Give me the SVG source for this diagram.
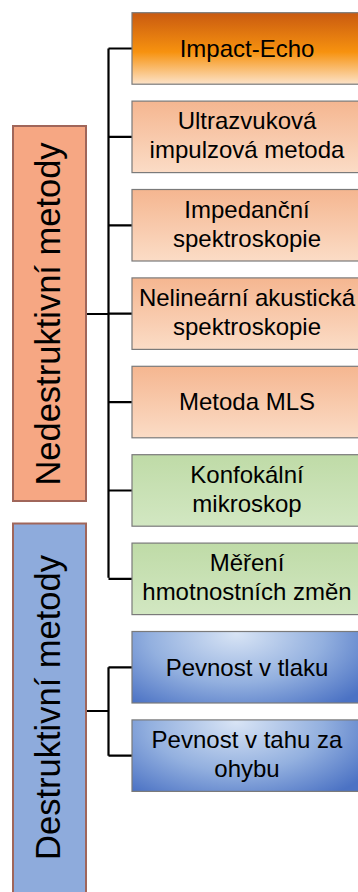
<svg xmlns="http://www.w3.org/2000/svg" width="358" height="892" viewBox="0 0 358 892">
<defs>
<linearGradient id="gOrange" x1="0" y1="0" x2="0" y2="1">
<stop offset="0" stop-color="#c95a10"/>
<stop offset="0.55" stop-color="#f7920f"/>
<stop offset="1" stop-color="#fce3c9"/>
</linearGradient>
<linearGradient id="gPeach" x1="0" y1="0" x2="0" y2="1">
<stop offset="0" stop-color="#f5b690"/>
<stop offset="1" stop-color="#fbdcc6"/>
</linearGradient>
<linearGradient id="gGreen" x1="0" y1="0" x2="0" y2="1">
<stop offset="0" stop-color="#bfdba7"/>
<stop offset="1" stop-color="#d2e7c2"/>
</linearGradient>
<radialGradient id="gBlue" cx="0.45" cy="0.1" r="0.85" fx="0.45" fy="0.05" gradientTransform="translate(0.45 0.1) scale(0.8 1.4) translate(-0.45 -0.1)">
<stop offset="0" stop-color="#d8e4f5"/>
<stop offset="0.55" stop-color="#93b0df"/>
<stop offset="1" stop-color="#4b72c4"/>
</radialGradient>
</defs>
<style>
.box{stroke:#7a7a7a;stroke-width:1.2}
.side{stroke:#a0665a;stroke-width:2}
.t{font-family:"Liberation Sans",Arial,sans-serif;font-size:24px;fill:#000;text-anchor:middle}
.vt{font-family:"Liberation Sans",Arial,sans-serif;font-size:34.5px;fill:#000;text-anchor:middle}
.c{stroke:#000;stroke-width:2.2;fill:none}
</style>
<rect width="358" height="892" fill="#fff"/>
<g id="connectors">
<path class="c" d="M86 314 H108.5 M108.5 48.5 V577.8 M108.5 48.5 H132 M108.5 136.9 H132 M108.5 225.3 H132 M108.5 313.7 H132 M108.5 402.1 H132 M108.5 490.5 H132 M108.5 578.9 H132"/>
<path class="c" d="M86 711 H108.5 M108.5 667.3 V755.7 M108.5 667.3 H132 M108.5 755.7 H132"/>
</g>
<g id="nedestruktivni">
<rect class="side" x="13" y="126" width="73" height="375" fill="#f6a783"/>
<text class="vt" transform="translate(60,314) rotate(-90)">Nedestruktivní metody</text>
</g>
<g id="destruktivni">
<rect class="side" x="13" y="523.5" width="73" height="372" fill="#8eabdc"/>
<text class="vt" transform="translate(60,707.5) rotate(-90)">Destruktivní metody</text>
</g>
<g id="impact-echo">
<rect class="box" x="132" y="12.7" width="232" height="71.5" fill="url(#gOrange)"/>
<text class="t" x="247" y="56.8">Impact-Echo</text>
</g>
<g id="ultrazvukova">
<rect class="box" x="132" y="101.1" width="232" height="71.5" fill="url(#gPeach)"/>
<text class="t" x="247" y="129.4">Ultrazvuková</text>
<text class="t" x="247" y="158.4">impulzová metoda</text>
</g>
<g id="impedancni">
<rect class="box" x="132" y="189.5" width="232" height="71.5" fill="url(#gPeach)"/>
<text class="t" x="247" y="217.8">Impedanční</text>
<text class="t" x="247" y="246.8">spektroskopie</text>
</g>
<g id="nelinearni">
<rect class="box" x="132" y="277.9" width="232" height="71.5" fill="url(#gPeach)"/>
<text class="t" x="247" y="306.2">Nelineární akustická</text>
<text class="t" x="247" y="335.2">spektroskopie</text>
</g>
<g id="mls">
<rect class="box" x="132" y="366.3" width="232" height="71.5" fill="url(#gPeach)"/>
<text class="t" x="247" y="410.4">Metoda MLS</text>
</g>
<g id="konfokalni">
<rect class="box" x="132" y="454.7" width="232" height="71.5" fill="url(#gGreen)"/>
<text class="t" x="247" y="483">Konfokální</text>
<text class="t" x="247" y="512">mikroskop</text>
</g>
<g id="mereni">
<rect class="box" x="132" y="543.1" width="232" height="71.5" fill="url(#gGreen)"/>
<text class="t" x="247" y="571.4">Měření</text>
<text class="t" x="247" y="600.4">hmotnostních změn</text>
</g>
<g id="tlak">
<rect class="box" x="132" y="631.5" width="232" height="71.5" fill="url(#gBlue)"/>
<text class="t" x="247" y="675.6">Pevnost v tlaku</text>
</g>
<g id="tah">
<rect class="box" x="132" y="719.9" width="232" height="71.5" fill="url(#gBlue)"/>
<text class="t" x="247" y="748.2">Pevnost v tahu za</text>
<text class="t" x="247" y="777.2">ohybu</text>
</g>
</svg>
